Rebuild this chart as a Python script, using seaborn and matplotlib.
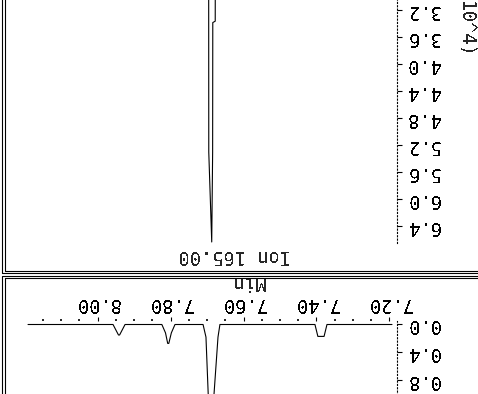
import matplotlib
matplotlib.use("Agg")
import matplotlib.pyplot as plt
from matplotlib.lines import Line2D
import seaborn as sns

# Chromatogram, shown rotated by 180 degrees as in the reference screenshot.
# Total ion current (retention time in min, abundance in display units)
tic_time = [7.1926, 7.371, 7.379, 7.396, 7.404, 7.6647, 7.670, 7.681, 7.687,
            7.6968, 7.703, 7.711, 7.788, 7.798, 7.805, 7.808, 7.814, 7.824,
            7.925, 7.940, 7.943, 7.958, 8.1912]
tic_abund = [0.0, 0.0, 0.17, 0.17, 0.0, 0.0, 0.18, 1.0, 3.0,
             1.0, 0.18, 0.0, 0.0, 0.12, 0.27, 0.27, 0.12, 0.0,
             0.0, 0.15, 0.15, 0.0, 0.0]
tic_xticks = [7.20, 7.40, 7.60, 7.80, 8.00]
tic_xminor = [7.25, 7.30, 7.35, 7.45, 7.50, 7.55, 7.65, 7.70, 7.75,
              7.85, 7.90, 7.95, 8.05, 8.10, 8.15]
tic_yticks = [0.0, 0.4, 0.8]

# Extracted ion 165.00 (abundance x10^4)
ion_time = [7.1926, 7.660, 7.6772, 7.6776, 7.6843, 7.6847, 7.6872, 7.6953,
            7.6957, 7.712, 8.1912]
ion_abund = [0.0, 0.2, 1.9, 3.36, 3.38, 5.30, 6.63, 5.30, 1.5, 0.2, 0.0]
ion_yticks = [3.2, 3.6, 4.0, 4.4, 4.8, 5.2, 5.6, 6.0, 6.4]

W, H = 478, 394
FS = 13.5

sns.set_style("white")
plt.rcParams['font.family'] = ['DejaVu Sans Mono', 'DejaVu Sans']
plt.rcParams['text.antialiased'] = False


def fx(x):
    return x / W


def fy(y):
    return 1 - y / H


def add_ax(fig, left, top, right, bottom):
    return fig.add_axes([fx(left), fy(bottom), (right - left) / W, (bottom - top) / H])


def style_axis(ax):
    for s in ["left", "top", "bottom"]:
        ax.spines[s].set_visible(False)
    ax.spines["right"].set_linestyle((0, (1, 2)))
    ax.spines["right"].set_linewidth(0.8)
    ax.spines["right"].set_color("black")
    ax.tick_params(axis="y", left=False, labelleft=False, right=True,
                   labelright=True, direction="out", length=3.5, width=0.8,
                   pad=3.0, colors="black")
    ax.set_ylabel("")


fig = plt.figure(figsize=(W / 100, H / 100), dpi=100)

# x scale shared by both panels (time grows to the left after the rotation)
x_left, x_right = 8.2132, 7.1789

# ---- ion panel (upper in the picture)
ax_ion = add_ax(fig, 20, -199, 397, 243)
ax_ion.patch.set_alpha(0)
sns.lineplot(x=ion_time, y=ion_abund, ax=ax_ion, color="black",
             linewidth=0.8, estimator=None, sort=False)
ax_ion.set_xlim(x_left, x_right)
ax_ion.set_ylim(6.645, 0.0985)
ax_ion.set_xticks([])
ax_ion.set_yticks(ion_yticks, labels=["%.1f" % v for v in ion_yticks],
                  rotation=180, va="center", fontsize=FS)
style_axis(ax_ion)
ax_ion.set_xlabel("")

# ---- TIC panel (lower in the picture)
ax_tic = add_ax(fig, 20, 321, 397, 400)
ax_tic.patch.set_alpha(0)
sns.lineplot(x=tic_time, y=tic_abund, ax=ax_tic, color="black",
             linewidth=0.8, estimator=None, sort=False)
ax_tic.set_xlim(x_left, x_right)
ax_tic.set_ylim(1.0786, -0.05)
ax_tic.set_xticks(tic_xticks, labels=["%.2f" % v for v in tic_xticks],
                  rotation=180, fontsize=FS)
ax_tic.set_xticks(tic_xminor, minor=True)
ax_tic.set_yticks(tic_yticks, labels=["%.1f" % v for v in tic_yticks],
                  rotation=180, va="center", fontsize=FS)
style_axis(ax_tic)
ax_tic.tick_params(axis="x", which="both", bottom=False, labelbottom=False,
                   top=True, labeltop=True, direction="out", colors="black")
ax_tic.tick_params(axis="x", which="major", length=3.2, width=0.8, pad=2.5)
ax_tic.tick_params(axis="x", which="minor", length=1.2, width=1.2)
ax_tic.set_xlabel("Min", rotation=180, fontsize=FS)
ax_tic.xaxis.set_label_position("top")
ax_tic.xaxis.set_label_coords((248 - 20) / 377, 1 + (321 - 282) / 79)
ax_tic.xaxis.label.set_va("center")

# ---- texts
fig.text(fx(235), fy(256), "Ion 165.00", rotation=180, ha="center",
         va="center", fontsize=FS)
fig.text(fx(464), fy(59), "(x10^4)", rotation=270, ha="center",
         va="bottom", fontsize=FS)

# ---- panel frames (double lines)
frames = [
    ([1.5, 1.5, 480], [-2, 272.8, 272.8]),
    ([4.5, 4.5, 480], [-2, 270.5, 270.5]),
    ([1.5, 1.5, 480], [400, 275.5, 275.5]),
    ([4.5, 4.5, 480], [400, 277.8, 277.8]),
]
for xs, ys in frames:
    fig.add_artist(Line2D([fx(v) for v in xs], [fy(v) for v in ys],
                          transform=fig.transFigure, color="black",
                          linewidth=0.8))

fig.savefig("out.png", dpi=100)
